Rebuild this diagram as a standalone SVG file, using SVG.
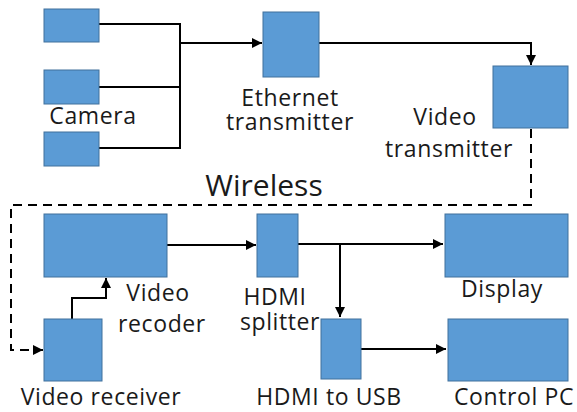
<svg xmlns="http://www.w3.org/2000/svg" width="577" height="412" viewBox="0 0 577 412">
<style>
.box{fill:#5B9BD5;stroke:#41719C;stroke-width:1}
.lbl{font-family:"Open Sans","Noto Sans",sans-serif;font-size:23px;letter-spacing:0.6px;fill:#1a1a1a;text-anchor:middle}
.big{font-size:30px;letter-spacing:0}
.ln{fill:none;stroke:#000;stroke-width:2}
.dash{stroke-dasharray:9 6}
</style>
<defs>
<marker id="ah" viewBox="0 0 10 10" refX="10" refY="5" markerWidth="5" markerHeight="5" orient="auto" markerUnits="strokeWidth">
<path d="M0,0 L10,5 L0,10 z" fill="#000"/>
</marker>
</defs>
<rect width="577" height="412" fill="#fff"/>
<g id="connectors">
<path class="ln" d="M99,24 H180 V148 H99"/>
<path class="ln" d="M99,87 H180"/>
<path class="ln" d="M180,43 H262" marker-end="url(#ah)"/>
<path class="ln" d="M319,43 H531 V65" marker-end="url(#ah)"/>
<path class="ln dash" d="M531,129 V205 H11 V350 H43" marker-end="url(#ah)"/>
<path class="ln" d="M72,319 V298 H106 V278" marker-end="url(#ah)"/>
<path class="ln" d="M167,245 H256" marker-end="url(#ah)"/>
<path class="ln" d="M298,244 H443" marker-end="url(#ah)"/>
<path class="ln" d="M340,244 V317" marker-end="url(#ah)"/>
<path class="ln" d="M361,349 H446" marker-end="url(#ah)"/>
</g>
<g id="camera">
<rect class="box" x="44" y="9" width="55" height="33"/>
<rect class="box" x="44" y="70" width="55" height="34"/>
<rect class="box" x="44" y="132" width="55" height="34"/>
<text class="lbl" x="93" y="124">Camera</text>
</g>
<g id="ethernet-transmitter">
<rect class="box" x="263" y="12" width="56" height="65"/>
<text class="lbl" x="290" y="106">Ethernet</text>
<text class="lbl" x="290" y="130">transmitter</text>
</g>
<g id="video-transmitter">
<rect class="box" x="493" y="66" width="75" height="62"/>
<text class="lbl" x="445" y="125">Video</text>
<text class="lbl" x="449" y="157">transmitter</text>
</g>
<g id="wireless">
<text class="lbl big" x="264" y="196">Wireless</text>
</g>
<g id="video-recoder">
<rect class="box" x="44" y="214" width="123" height="63"/>
<text class="lbl" x="158" y="301">Video</text>
<text class="lbl" x="162" y="332">recoder</text>
</g>
<g id="video-receiver">
<rect class="box" x="44" y="319" width="58" height="62"/>
<text class="lbl" x="101" y="405">Video receiver</text>
</g>
<g id="hdmi-splitter">
<rect class="box" x="257" y="214" width="41" height="63"/>
<text class="lbl" x="275" y="305">HDMI</text>
<text class="lbl" x="280" y="330">splitter</text>
</g>
<g id="hdmi-to-usb">
<rect class="box" x="321" y="319" width="40" height="60"/>
<text class="lbl" x="329" y="405">HDMI to USB</text>
</g>
<g id="display">
<rect class="box" x="445" y="214" width="123" height="63"/>
<text class="lbl" x="502" y="297">Display</text>
</g>
<g id="control-pc">
<rect class="box" x="448" y="319" width="120" height="62"/>
<text class="lbl" x="514" y="405">Control PC</text>
</g>
</svg>
